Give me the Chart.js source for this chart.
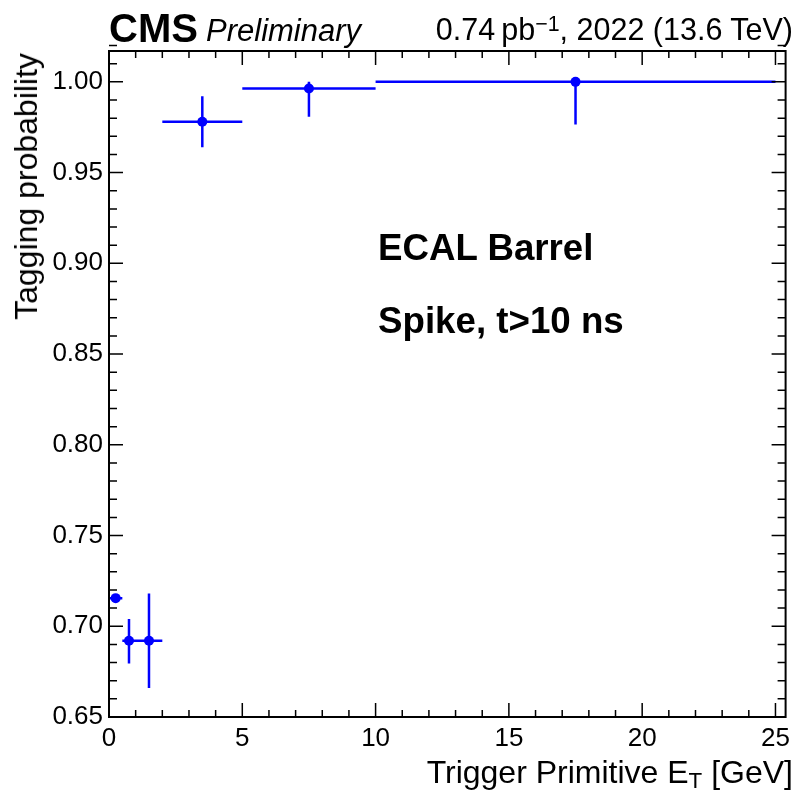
<!DOCTYPE html>
<html>
<head>
<meta charset="utf-8">
<script src="https://cdn.jsdelivr.net/npm/chart.js@4/dist/chart.umd.min.js"></script>
<style>
  body { margin: 0; background: #fff; }
  #wrap { position: relative; width: 796px; height: 790px; font-family: "Liberation Sans", Arial, Helvetica, sans-serif; color: #000; }
  #wrap canvas { position: absolute; left: 0; top: 0; }
  .lbl { position: absolute; white-space: nowrap; line-height: 1; }
  sup { font-size: 0.7em; vertical-align: 0.42em; line-height: 0; }
  sub { font-size: 0.7em; vertical-align: -0.22em; line-height: 0; }
</style>
</head>
<body>
<div id="wrap">
  <canvas id="effChart" width="796" height="790"></canvas>
  <div class="lbl" style="left:109px; top:8px; font-size:40px; font-weight:bold;">CMS</div>
  <div class="lbl" style="left:206px; top:15px; font-size:31px; font-style:italic;">Preliminary</div>
  <div class="lbl" style="right:3px; top:14px; font-size:30.5px;">0.74&thinsp;pb<sup>−1</sup>, 2022 (13.6 TeV)</div>
  <div class="lbl" style="left:378px; top:230px; font-size:36.7px; font-weight:bold;">ECAL Barrel</div>
  <div class="lbl" style="left:378px; top:303px; font-size:36.7px; font-weight:bold;">Spike, t&gt;10 ns</div>
  <div class="lbl" style="right:3px; top:756px; font-size:32px;">Trigger Primitive E<sub>T</sub> [GeV]</div>
  <div class="lbl" style="left:10px; top:53px; font-size:32px; transform-origin:0 0; transform:rotate(-90deg) translateX(-100%);">Tagging probability</div>
</div>
<script>
// bins of trigger primitive E_T (GeV)
const binLow = [0, 0.5, 1, 2, 5, 10];
const binHigh = [0.5, 1, 2, 5, 10, 25];
const binCenter = [0.25, 0.75, 1.5, 3.5, 7.5, 17.5];
// tagging probability and its asymmetric errors
const tagProb = [0.7155, 0.692, 0.692, 0.978, 0.9963, 1.0];
const errDown = [0.001, 0.0125, 0.026, 0.014, 0.0155, 0.0235];
const errUp = [0.001, 0.012, 0.026, 0.014, 0.0037, 0.0];

const xTicks = [0, 5, 10, 15, 20, 25];
const yTicks = [0.65, 0.7, 0.75, 0.8, 0.85, 0.9, 0.95, 1.0];
const xMinorStep = 1;
const yMinorStep = 0.01;

const blue = "#0000ff";

Chart.defaults.font.family = '"Liberation Sans", Arial, Helvetica, sans-serif';
Chart.defaults.color = "#000";

// error bars, tick marks drawn inside the frame, frame itself
const rootStyle = {
  id: "rootStyle",
  beforeDatasetsDraw(chart) {
    const ctx = chart.ctx;
    const xs = chart.scales.x;
    const ys = chart.scales.y;
    ctx.save();
    ctx.strokeStyle = blue;
    ctx.lineWidth = 2.5;
    ctx.beginPath();
    for (let i = 0; i < tagProb.length; i++) {
      const yp = ys.getPixelForValue(tagProb[i]);
      ctx.moveTo(xs.getPixelForValue(binLow[i]), yp);
      ctx.lineTo(xs.getPixelForValue(binHigh[i]), yp);
      const xp = xs.getPixelForValue(binCenter[i]);
      ctx.moveTo(xp, ys.getPixelForValue(tagProb[i] - errDown[i]));
      ctx.lineTo(xp, ys.getPixelForValue(tagProb[i] + errUp[i]));
    }
    ctx.stroke();
    ctx.restore();
  },
  afterDraw(chart) {
    const ctx = chart.ctx;
    const a = chart.chartArea;
    const xs = chart.scales.x;
    const ys = chart.scales.y;
    ctx.save();
    ctx.strokeStyle = "#000";
    ctx.lineWidth = 1.5;
    ctx.beginPath();
    // x ticks, bottom and top
    for (let v = xs.min; v <= xs.max + 1e-9; v += xMinorStep) {
      const major = xTicks.some((t) => Math.abs(t - v) < 1e-6);
      const len = major ? 14 : 7;
      const px = xs.getPixelForValue(v);
      ctx.moveTo(px, a.bottom);
      ctx.lineTo(px, a.bottom - len);
      ctx.moveTo(px, a.top);
      ctx.lineTo(px, a.top + len);
    }
    // y ticks, left and right
    const nY = Math.round((ys.max - ys.min) / yMinorStep);
    for (let k = 0; k <= nY; k++) {
      const v = ys.min + k * yMinorStep;
      const major = yTicks.some((t) => Math.abs(t - v) < 1e-6);
      const len = major ? 14 : 8;
      const py = ys.getPixelForValue(v);
      ctx.moveTo(a.left, py);
      ctx.lineTo(a.left + len, py);
      ctx.moveTo(a.right, py);
      ctx.lineTo(a.right - len, py);
    }
    ctx.stroke();
    ctx.lineWidth = 2;
    ctx.strokeRect(a.left, a.top, a.right - a.left, a.bottom - a.top);
    ctx.restore();
  },
};

const effCtx = document.getElementById("effChart").getContext("2d");
const effChart = new Chart(effCtx, {
  type: "scatter",
  data: {
    datasets: [
      {
        label: "Spike tagging",
        data: binCenter.map((x, i) => ({ x: x, y: tagProb[i] })),
        backgroundColor: blue,
        borderColor: blue,
        borderWidth: 0,
        pointRadius: 5,
      },
    ],
  },
  options: {
    responsive: false,
    animation: false,
    layout: {
      padding: { top: 51, right: 5, left: 0, bottom: 0 },
    },
    plugins: {
      legend: { display: false },
      tooltip: { enabled: false },
    },
    scales: {
      x: {
        type: "linear",
        min: 0,
        max: 25.38,
        afterFit: (scale) => {
          scale.height = 73;
        },
        afterBuildTicks: (scale) => {
          scale.ticks = xTicks.map((v) => ({ value: v }));
        },
        grid: { display: false, drawTicks: false },
        border: { display: false },
        ticks: {
          padding: 6,
          maxRotation: 0,
          font: { size: 26 },
          callback: (v) => String(v),
        },
      },
      y: {
        type: "linear",
        min: 0.65,
        max: 1.017,
        afterFit: (scale) => {
          scale.width = 109;
        },
        afterBuildTicks: (scale) => {
          scale.ticks = yTicks.map((v) => ({ value: v }));
        },
        grid: { display: false, drawTicks: false },
        border: { display: false },
        ticks: {
          padding: 6,
          font: { size: 26 },
          callback: (v) => v.toFixed(2),
        },
      },
    },
  },
  plugins: [rootStyle],
});
</script>
</body>
</html>
